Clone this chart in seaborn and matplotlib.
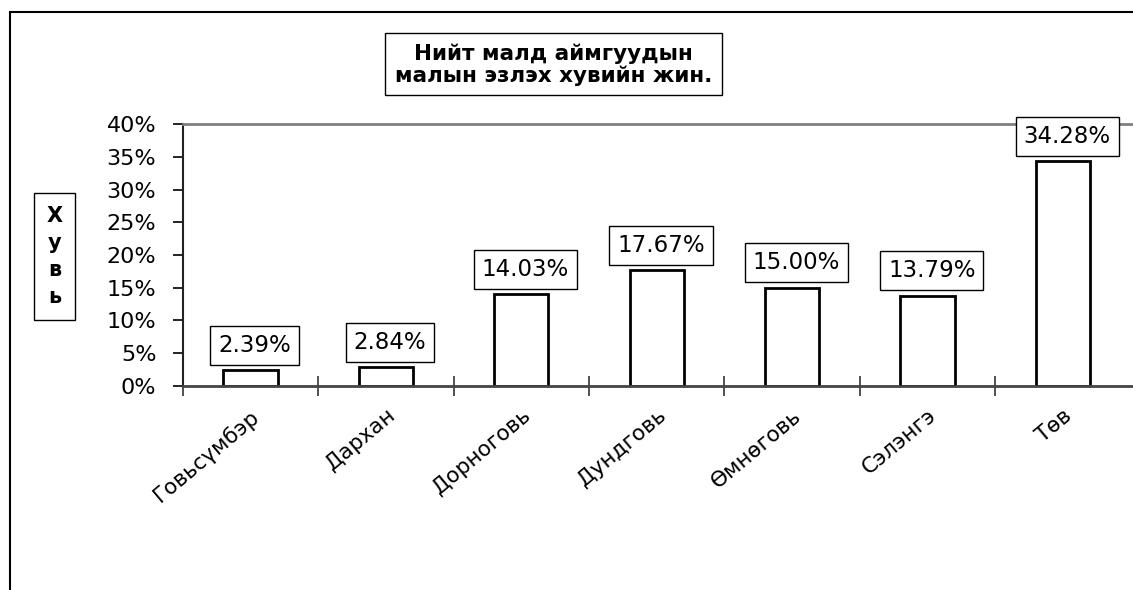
import seaborn as sns
import pandas as pd
from matplotlib import pyplot as plt
from matplotlib.patches import Rectangle
from matplotlib.ticker import FixedLocator, FuncFormatter

# data
aimags = ['Говьсүмбэр', 'Дархан', 'Дорноговь', 'Дундговь', 'Өмнөговь', 'Сэлэнгэ', 'Төв']
shares = [2.39, 2.84, 14.03, 17.67, 15.00, 13.79, 34.28]
y_ticks = [0, 5, 10, 15, 20, 25, 30, 35, 40]
title_lines = ['Нийт малд аймгуудын', 'малын эзлэх хувийн жин.']
y_label = 'Хувь'

df = pd.DataFrame({'aimag': aimags, 'share': shares})

sns.set_style('white')
plt.rcParams['font.family'] = ['DejaVu Sans']
plt.rcParams['text.color'] = 'black'
plt.rcParams['xtick.color'] = 'black'
plt.rcParams['ytick.color'] = 'black'

fig = plt.figure(figsize=(11.33, 5.90), dpi=100)
ax = fig.add_axes([0.1613, 0.3458, 0.845, 0.444])

sns.barplot(data=df, x='aimag', y='share', color='white', edgecolor='black',
            linewidth=2, width=0.4, ax=ax)

ax.set_ylim(0, 40)
ax.set_xlim(-0.5, 6.5 + 0.07)
ax.set_xlabel('')
ax.set_ylabel('')

# y axis
ax.yaxis.set_major_locator(FixedLocator(y_ticks))
ax.yaxis.set_major_formatter(FuncFormatter(lambda v, p: f'{v:.0f}%'))
ax.tick_params(axis='y', direction='out', length=7, width=1.2, color='black',
               labelsize=16, pad=12, left=True)

# x axis: labels at bar centres, ticks between categories
ax.xaxis.set_minor_locator(FixedLocator([i - 0.5 for i in range(len(aimags))]))
ax.tick_params(axis='x', which='major', length=0, labelsize=15.5, pad=14)
ax.tick_params(axis='x', which='minor', direction='inout', length=14, width=1.2,
               color='#333333', bottom=True)
for lab in ax.get_xticklabels():
    lab.set_rotation(40)
    lab.set_ha('right')
    lab.set_va('top')
    lab.set_rotation_mode('anchor')

ax.spines['right'].set_visible(False)
ax.spines['top'].set_color('#808080')
ax.spines['top'].set_linewidth(2)
ax.spines['left'].set_color('#222222')
ax.spines['left'].set_linewidth(1.5)
ax.spines['bottom'].set_color('#444444')
ax.spines['bottom'].set_linewidth(2)

# value labels in boxes
for i, v in enumerate(shares):
    ax.annotate(f'{v:.2f}%', xy=(i, v), xytext=(3, 18), textcoords='offset points',
                ha='center', va='center', fontsize=16.5,
                bbox=dict(boxstyle='square,pad=0.35', fc='white', ec='black', lw=1))

# title in a box
fig.text(0.4885, 0.8907, '\n'.join(title_lines), ha='center', va='center',
         fontsize=15.5, fontweight='bold', linespacing=1.1,
         bbox=dict(boxstyle='square,pad=0.45', fc='white', ec='black', lw=1))

# stacked y label in a box
fig.text(0.048, 0.565, '\n'.join(y_label), ha='center', va='center',
         fontsize=15, fontweight='semibold', linespacing=1.45,
         bbox=dict(boxstyle='square,pad=0.6', fc='white', ec='black', lw=1))

# outer frame of the chart area
fig.add_artist(Rectangle((10 / 1133, -0.1), 1.2, 1.1 - 12 / 590,
                         transform=fig.transFigure, fill=False, ec='black', lw=1.5))

plt.savefig('out.png', dpi=100)
